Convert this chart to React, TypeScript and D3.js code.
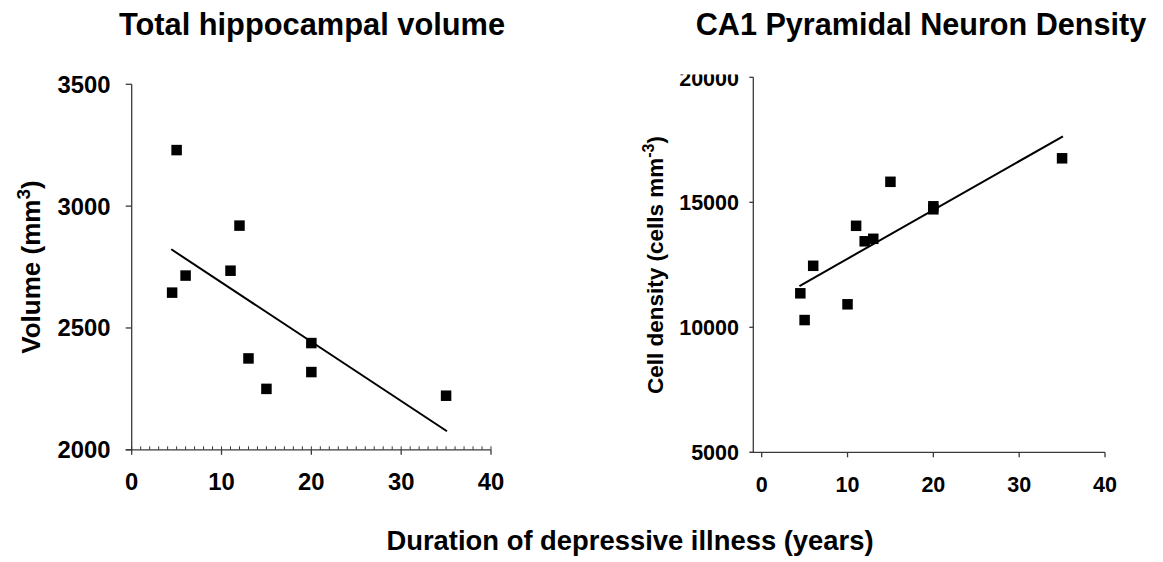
import React from "react";
import * as d3 from "d3";

// ---- Data ----
const volDuration = [5, 4.5, 6, 11, 12, 13, 15, 20, 20, 35];
const volValues = [3230, 2645, 2715, 2735, 2920, 2375, 2250, 2438, 2319, 2222];
const volFitX = [4.4, 35.1];
const volFitY = [2823, 2076];

const densDuration = [4.5, 5, 6, 10, 11, 12, 13, 15, 20, 20, 35];
const densValues = [11360, 10290, 12460, 10920, 14060, 13440, 13540, 15820, 14840, 14720, 16760];
const densFitX = [4.4, 35.1];
const densFitY = [11650, 17640];

const xTicks = [0, 10, 20, 30, 40];
const volTicks = [2000, 2500, 3000, 3500];
const densTicks = [5000, 10000, 15000, 20000];
const xMinor = d3.range(0, 41, 1);

const FONT = "'Liberation Sans', Arial, Helvetica, sans-serif";
const AXIS = "#3a3a3a";

export default function App() {
  // left panel scales
  const xL = d3.scaleLinear().domain([0, 40]).range([131.7, 491]);
  const yL = d3.scaleLinear().domain([2000, 3500]).range([449.8, 84.3]);
  // right panel scales
  const xR = d3.scaleLinear().domain([0, 40]).range([761.7, 1105]);
  const yR = d3.scaleLinear().domain([5000, 20000]).range([452.3, 77.3]);

  const line = d3.line<[number, number]>();
  const sq = 10.5;

  const fitL = line(volFitX.map((x, i) => [xL(x), yL(volFitY[i])] as [number, number]))!;
  const fitR = line(densFitX.map((x, i) => [xR(x), yR(densFitY[i])] as [number, number]))!;

  const yAxL = xL(0);
  const xAxL = yL(2000);
  const yAxR = 753.3;
  const xAxR = yR(5000);

  return (
    <svg width={1163} height={562} style={{ position: "absolute", left: 0, top: 0, background: "#fff" }}>
      <defs>
        <clipPath id="clipTop">
          <rect x={0} y={74.5} width={1163} height={500} />
        </clipPath>
      </defs>
      <rect x={0} y={0} width={1163} height={562} fill="#fff" />

      {/* Titles */}
      <text x={312} y={35} textAnchor="middle" fontFamily={FONT} fontWeight="bold" fontSize={30.8} fill="#000">
        Total hippocampal volume
      </text>
      <text x={921} y={35} textAnchor="middle" fontFamily={FONT} fontWeight="bold" fontSize={30.6} fill="#000">
        CA1 Pyramidal Neuron Density
      </text>

      {/* ---------- Left panel ---------- */}
      <g>
        <line x1={yAxL} x2={yAxL} y1={yL(3500)} y2={xAxL} stroke={AXIS} strokeWidth={1.3} />
        <line x1={yAxL - 6} x2={xL(40)} y1={xAxL} y2={xAxL} stroke={AXIS} strokeWidth={1.3} />
        {volTicks.map((t) => (
          <g key={t}>
            <line x1={yAxL - 6} x2={yAxL} y1={yL(t)} y2={yL(t)} stroke={AXIS} strokeWidth={1.3} />
            <text x={110.5} y={yL(t) + 8.5} textAnchor="end" fontFamily={FONT} fontWeight="bold" fontSize={23.8} fill="#000">
              {t}
            </text>
          </g>
        ))}
        {xMinor.map((t) => (
          <line key={"m" + t} x1={xL(t)} x2={xL(t)} y1={xAxL} y2={xAxL - 3.5} stroke={AXIS} strokeWidth={1} />
        ))}
        {xTicks.map((t) => (
          <g key={t}>
            <line x1={xL(t)} x2={xL(t)} y1={xAxL} y2={xAxL + 5} stroke={AXIS} strokeWidth={1.3} />
            <text x={xL(t)} y={490} textAnchor="middle" fontFamily={FONT} fontWeight="bold" fontSize={23.8} fill="#000">
              {t}
            </text>
          </g>
        ))}
        <path d={fitL} stroke="#000" strokeWidth={2} fill="none" />
        {volDuration.map((x, i) => (
          <rect key={i} x={xL(x) - sq / 2} y={yL(volValues[i]) - sq / 2} width={sq} height={sq} fill="#000" />
        ))}
        <text
          transform={`translate(39.5,267) rotate(-90)`}
          textAnchor="middle"
          fontFamily={FONT}
          fontWeight="bold"
          fontSize={26}
          fill="#000"
        >
          Volume (mm<tspan dy={-10} fontSize={19}>3</tspan><tspan dy={10}>)</tspan>
        </text>
      </g>

      {/* ---------- Right panel ---------- */}
      <g>
        <line x1={yAxR} x2={yAxR} y1={yR(20000)} y2={xAxR} stroke={AXIS} strokeWidth={1.3} />
        <line x1={yAxR - 3} x2={xR(40)} y1={xAxR} y2={xAxR} stroke={AXIS} strokeWidth={1.3} />
        {densTicks.map((t) => (
          <g key={t}>
            <line x1={yAxR - 4} x2={yAxR} y1={yR(t)} y2={yR(t)} stroke={AXIS} strokeWidth={1.3} />
            <text
              x={739}
              y={t === 20000 ? 85.5 : yR(t) + 7.6}
              textAnchor="end"
              fontFamily={FONT}
              fontWeight="bold"
              fontSize={21.5}
              fill="#000"
              clipPath={t === 20000 ? "url(#clipTop)" : undefined}
            >
              {t}
            </text>
          </g>
        ))}
        {xTicks.map((t) => (
          <g key={t}>
            <line x1={xR(t)} x2={xR(t)} y1={xAxR} y2={xAxR + 5} stroke={AXIS} strokeWidth={1.3} />
            <text x={xR(t)} y={491.5} textAnchor="middle" fontFamily={FONT} fontWeight="bold" fontSize={21.5} fill="#000">
              {t}
            </text>
          </g>
        ))}
        <path d={fitR} stroke="#000" strokeWidth={2} fill="none" />
        {densDuration.map((x, i) => (
          <rect key={i} x={xR(x) - sq / 2} y={yR(densValues[i]) - sq / 2} width={sq} height={sq} fill="#000" />
        ))}
        <text
          transform={`translate(663,265) rotate(-90)`}
          textAnchor="middle"
          fontFamily={FONT}
          fontWeight="bold"
          fontSize={22.5}
          fill="#000"
        >
          Cell density (cells mm<tspan dy={-9} fontSize={16}>-3</tspan><tspan dy={9}>)</tspan>
        </text>
      </g>

      {/* Shared x label */}
      <text x={630} y={550} textAnchor="middle" fontFamily={FONT} fontWeight="bold" fontSize={27.4} fill="#000">
        Duration of depressive illness (years)
      </text>
    </svg>
  );
}
